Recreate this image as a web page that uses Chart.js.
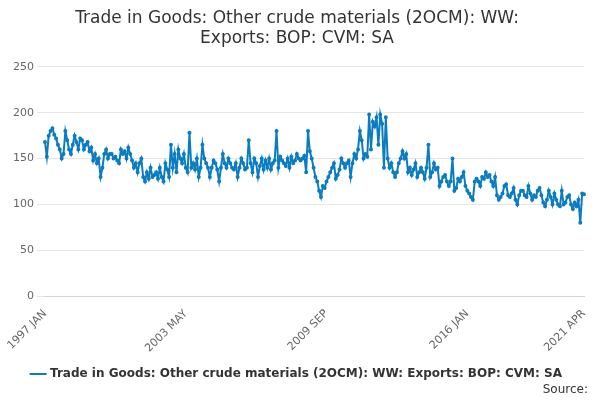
<!DOCTYPE html>
<html>
<head>
<meta charset="utf-8">
<script src="https://cdn.jsdelivr.net/npm/chart.js@4"></script>
<style>
body { margin: 0; background: #fff; font-family: "DejaVu Sans", sans-serif; }
#wrap { position: relative; width: 600px; height: 400px; }
#src { position: absolute; right: 12px; bottom: 4px; font-size: 12px; color: #333; }
</style>
</head>
<body>
<div id="wrap">
<canvas id="chart" width="600" height="400"></canvas>
<div id="src">Source:</div>
</div>
<script>
const months = ["JAN","FEB","MAR","APR","MAY","JUN","JUL","AUG","SEP","OCT","NOV","DEC"];
const startYear = 1997;
const shownLabels = ["1997 JAN", "2003 MAY", "2009 SEP", "2016 JAN", "2021 APR"];
const exportsValues = [
    168,152,175,180,183,176,172,165,160,150,155,180,
    170,160,155,165,175,168,160,172,170,160,165,168,
    158,162,148,155,145,150,130,140,155,160,150,155,
    155,150,152,148,145,160,155,158,150,162,155,148,
    140,145,135,145,150,130,125,135,128,140,130,132,
    135,128,140,130,125,145,138,130,165,140,155,135,
    160,150,145,155,140,135,178,140,145,138,150,130,
    140,165,150,145,140,130,140,148,145,138,125,140,
    155,145,140,150,145,140,138,145,130,140,150,145,
    138,140,170,145,135,150,145,130,142,150,138,148,
    140,150,138,145,148,180,140,152,148,145,142,150,
    140,152,145,148,155,150,148,150,153,135,180,158,
    150,140,130,125,115,108,120,118,125,130,135,140,
    145,128,132,138,150,145,140,145,148,130,145,155,
    150,160,180,170,150,155,152,198,160,190,185,195,
    165,198,188,140,195,150,140,145,135,130,135,145,
    150,158,150,155,135,140,132,138,145,130,135,140,
    135,128,140,165,130,135,145,138,140,120,125,130,
    132,125,120,125,150,115,118,128,125,130,135,120,
    115,112,108,105,125,128,125,120,130,128,135,130,
    132,125,120,130,110,105,108,112,120,122,110,108,
    112,118,105,100,110,115,115,110,108,120,112,105,
    110,108,115,118,110,102,98,105,115,108,100,112,
    105,100,98,115,100,102,108,110,100,95,102,98,
    105,80,112,111
];
const labels = exportsValues.map((v, i) => (startYear + Math.floor(i / 12)) + " " + months[i % 12]);

new Chart(document.getElementById("chart"), {
    type: "line",
    data: {
        labels: labels,
        datasets: [{
            label: "Trade in Goods: Other crude materials (2OCM): WW: Exports: BOP: CVM: SA",
            data: exportsValues,
            borderColor: "#0a7cc1",
            backgroundColor: "#0a7cc1",
            borderWidth: 2,
            pointRadius: 1,
            tension: 0
        }]
    },
    options: {
        responsive: false,
        animation: false,
        layout: { padding: { left: 10, right: 16, bottom: 10 } },
        plugins: {
            title: {
                display: true,
                text: ["Trade in Goods: Other crude materials (2OCM): WW:", "Exports: BOP: CVM: SA"],
                color: "#333",
                font: { size: 17, weight: "normal", family: "DejaVu Sans" },
                padding: { top: 8, bottom: 18 }
            },
            legend: {
                position: "bottom",
                labels: {
                    usePointStyle: true,
                    pointStyle: "line",
                    color: "#333",
                    font: { size: 12, weight: "bold", family: "DejaVu Sans" }
                }
            }
        },
        scales: {
            x: {
                grid: { display: false },
                border: { color: "#ccd6eb" },
                ticks: {
                    autoSkip: false,
                    maxRotation: 45,
                    minRotation: 45,
                    color: "#666",
                    font: { size: 11, family: "DejaVu Sans" },
                    callback: function (v, i) {
                        const l = labels[i];
                        return shownLabels.includes(l) ? l : null;
                    }
                }
            },
            y: {
                min: 0,
                max: 250,
                ticks: { stepSize: 50, color: "#666", font: { size: 11, family: "DejaVu Sans" } },
                grid: { color: "#e6e6e6" },
                border: { display: false }
            }
        }
    }
});
</script>
</body>
</html>
